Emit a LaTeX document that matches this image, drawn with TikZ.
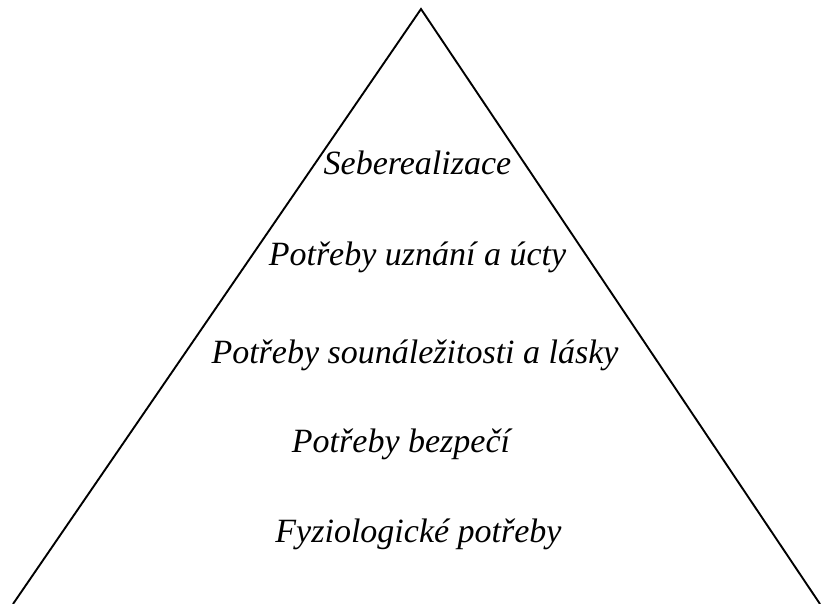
\documentclass[tikz,border=0pt]{standalone}
\usepackage{fontspec}
\setmainfont{Liberation Serif}
\begin{document}
\begin{tikzpicture}[x=1pt,y=-1pt,
  lbl/.style={anchor=base,inner sep=0pt,font=\fontsize{34}{40}\selectfont\itshape},
  edge/.style={line width=1.9pt,black}]
\useasboundingbox (0,0) rectangle (821,604);
\clip (0,0) rectangle (821,604);
\coordinate (apex) at (421,9);
\coordinate (bl) at (13,604);
\coordinate (br) at (820,604);
\draw[edge,line join=miter] (bl) -- (apex) -- (br);
\node[lbl] (n1) at (417.5,175) {Seberealizace};
\node[lbl] (n2) at (417.5,265) {Potřeby uznání a úcty};
\node[lbl] (n3) at (415,363) {Potřeby sounáležitosti a lásky};
\node[lbl] (n4) at (401,452) {Potřeby bezpečí};
\node[lbl] (n5) at (418.5,542) {Fyziologické potřeby};
\end{tikzpicture}
\end{document}
